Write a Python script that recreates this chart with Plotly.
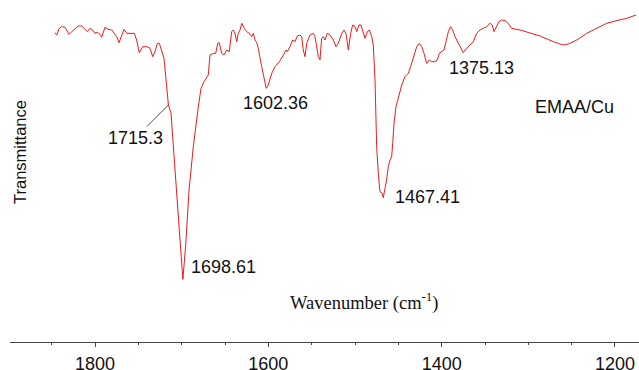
import plotly.graph_objects as go

# Wavenumber (cm-1) and transmittance (arbitrary units)
wavenumber = [
    1846.2, 1844.2, 1841.2, 1838.4, 1834.6, 1832.7, 1830.0, 1826.9, 1823.1, 1819.3,
    1815.3, 1811.5, 1808.9, 1805.8, 1802.7, 1800.0, 1797.3, 1794.2, 1792.3, 1788.5,
    1784.7, 1780.7, 1778.1, 1775.0, 1772.3, 1769.2, 1766.5, 1763.4, 1759.6, 1754.6,
    1752.0, 1748.9, 1745.0, 1740.3, 1736.5, 1733.4, 1730.8, 1728.1, 1725.8, 1723.0,
    1720.4, 1718.4, 1715.3, 1712.3, 1706.5, 1701.9, 1698.6, 1695.5, 1691.5, 1686.6,
    1680.8, 1677.7, 1674.2, 1671.1, 1669.3, 1667.3, 1663.5, 1660.7, 1658.4, 1656.6,
    1653.8, 1651.2, 1648.0, 1645.0, 1642.3, 1640.4, 1638.5, 1636.5, 1634.7, 1632.7,
    1630.7, 1627.7, 1625.0, 1622.0, 1619.2, 1617.3, 1615.4, 1613.4, 1611.6, 1607.7,
    1602.4, 1600.0, 1596.1, 1592.3, 1587.3, 1582.7, 1579.6, 1578.1, 1575.0, 1571.9,
    1569.2, 1566.6, 1563.5, 1561.5, 1559.7, 1557.7, 1555.7, 1551.9, 1548.1, 1546.2,
    1542.3, 1540.4, 1538.5, 1536.6, 1534.6, 1532.0, 1528.8, 1525.0, 1521.9, 1519.3,
    1515.3, 1512.7, 1510.4, 1507.7, 1505.0, 1502.7, 1500.0, 1498.0, 1495.4, 1493.1,
    1491.1, 1488.5, 1485.8, 1483.5, 1480.7, 1478.9, 1476.9, 1476.2, 1475.0, 1473.1,
    1471.2, 1468.5, 1467.4, 1463.5, 1461.6, 1459.6, 1457.7, 1456.5, 1455.0, 1452.7,
    1450.0, 1446.1, 1442.3, 1438.5, 1435.8, 1432.7, 1428.8, 1425.8, 1423.0, 1420.4,
    1417.3, 1414.3, 1411.5, 1407.7, 1405.1, 1402.7, 1400.0, 1397.3, 1395.0, 1392.3,
    1389.6, 1387.3, 1384.6, 1380.8, 1377.5, 1375.1, 1371.2, 1367.3, 1363.5, 1359.6,
    1355.8, 1352.0, 1348.1, 1344.2, 1341.6, 1339.6, 1336.5, 1333.8, 1330.7, 1326.9,
    1323.1, 1319.2, 1309.6, 1298.1, 1286.5, 1271.2, 1259.6, 1253.9, 1244.2, 1232.7,
    1221.2, 1209.6, 1198.1, 1186.5, 1175.8,
]
transmittance = [
    93.7, 93.0, 95.0, 95.5, 95.3, 94.5, 93.2, 94.0, 95.0, 95.7,
    95.7, 94.7, 94.0, 95.0, 94.5, 93.5, 93.8, 93.2, 92.3, 95.3,
    94.7, 94.5, 93.5, 92.5, 90.7, 93.0, 94.7, 93.5, 93.5, 93.5,
    91.5, 87.7, 89.5, 89.5, 89.0, 86.5, 88.0, 90.5, 90.5, 88.5,
    86.0, 80.5, 72.0, 69.5, 46.5, 31.5, 19.7, 29.5, 46.5, 59.5,
    71.5, 77.0, 79.0, 80.5, 81.0, 87.0, 87.5, 87.5, 90.5, 90.7,
    87.5, 87.0, 88.5, 88.0, 94.0, 94.5, 93.5, 91.0, 93.5, 94.5,
    96.5, 95.0, 94.0, 93.5, 92.5, 93.5, 91.5, 90.7, 89.0, 83.5,
    77.0, 78.0, 81.5, 83.5, 85.0, 87.0, 88.5, 88.0, 89.5, 91.5,
    91.0, 92.7, 93.0, 92.5, 88.5, 86.5, 90.5, 93.0, 93.5, 92.5,
    86.5, 85.5, 92.0, 92.5, 91.5, 93.5, 93.0, 91.5, 89.5, 90.5,
    93.5, 94.5, 93.5, 88.5, 93.5, 96.0, 95.5, 94.0, 96.0, 96.0,
    94.5, 92.0, 94.0, 94.5, 92.5, 90.0, 79.5, 69.5, 59.5, 51.5,
    46.0, 45.5, 44.2, 49.5, 53.5, 55.5, 56.5, 60.5, 66.5, 71.5,
    74.5, 78.0, 80.5, 81.5, 83.5, 86.5, 89.5, 90.5, 89.5, 87.5,
    84.5, 85.5, 85.0, 85.0, 85.5, 87.5, 88.0, 88.5, 91.0, 94.0,
    95.5, 94.5, 92.5, 90.5, 89.0, 87.7, 89.0, 90.0, 91.0, 93.5,
    94.5, 95.0, 95.5, 96.5, 96.0, 94.0, 95.5, 97.0, 97.5, 97.3,
    96.5, 95.0, 94.5, 93.7, 92.7, 91.0, 90.0, 90.3, 91.5, 93.5,
    95.0, 96.5, 97.3, 98.0, 99.0,
]

# Peak labels
peak_labels = ["1698.61", "1602.36", "1467.41", "1375.13"]
peak_label_x = [1691.5, 1591.2, 1455.8, 1354.6]
peak_label_y = [23.4, 72.7, 44.5, 83.0]
peak_label_anchor = ["left", "center", "left", "center"]

shoulder_label = "1715.3"
shoulder_x = 1715.3
shoulder_y = 72.0

sample_label = "EMAA/Cu"
sample_x = 1246.2
sample_y = 71.5

x_ticks = [1800, 1600, 1400, 1200]

LINE_RED = "rgb(232,28,28)"
TXT = "#111111"
SANS = "Liberation Sans, Arial, sans-serif"
SERIF = "Liberation Serif, Times New Roman, serif"
FS = 18

fig = go.Figure()
fig.add_trace(go.Scatter(
    x=wavenumber, y=transmittance, mode="lines",
    line=dict(color=LINE_RED, width=1), hoverinfo="skip", showlegend=False,
))

annotations = []
for t, x, y, a in zip(peak_labels, peak_label_x, peak_label_y, peak_label_anchor):
    annotations.append(dict(x=x, y=y, xref="x", yref="y", text=t, showarrow=False,
                            xanchor=a, yanchor="middle",
                            font=dict(family=SANS, size=FS, color=TXT)))
annotations.append(dict(x=shoulder_x, y=shoulder_y, xref="x", yref="y", text=shoulder_label,
                        showarrow=True, arrowhead=0, arrowwidth=0.8, arrowcolor="#222",
                        ax=-33, ay=33, standoff=0,
                        font=dict(family=SANS, size=FS, color=TXT)))
annotations.append(dict(x=sample_x, y=sample_y, xref="x", yref="y", text=sample_label,
                        showarrow=False, xanchor="center", yanchor="middle",
                        font=dict(family=SANS, size=FS, color=TXT)))
# x-axis title drawn inside plot area
annotations.append(dict(x=0.564, y=0.12, xref="paper", yref="paper",
                        text="Wavenumber (cm<sup>-1</sup>)", showarrow=False,
                        xanchor="center", yanchor="middle",
                        font=dict(family=SERIF, size=18.5, color=TXT)))
# y-axis title
annotations.append(dict(x=0.0159, y=0.5638, xref="paper", yref="paper",
                        text="Transmittance", showarrow=False, textangle=-90,
                        xanchor="center", yanchor="middle",
                        font=dict(family=SANS, size=16.5, color=TXT)))

fig.update_layout(
    width=639, height=370,
    margin=dict(l=10, r=0, t=5, b=28),
    paper_bgcolor="white", plot_bgcolor="white",
    annotations=annotations,
    xaxis=dict(
        range=[1898.1, 1172.3],
        tickvals=x_ticks, ticktext=[str(v) for v in x_ticks],
        ticks="outside", ticklen=4, tickwidth=1, tickcolor="#444",
        showline=True, linecolor="#444", linewidth=1,
        showgrid=False, zeroline=False, ticklabelstandoff=1, automargin=False,
        tickfont=dict(family=SANS, size=FS, color=TXT),
        minor=dict(dtick=50, tick0=1200, ticks="outside", ticklen=2, tickcolor="#444", showgrid=False),
    ),
    yaxis=dict(range=[0.9, 102], visible=False, showgrid=False, zeroline=False),
)

fig.write_html("out.html")
